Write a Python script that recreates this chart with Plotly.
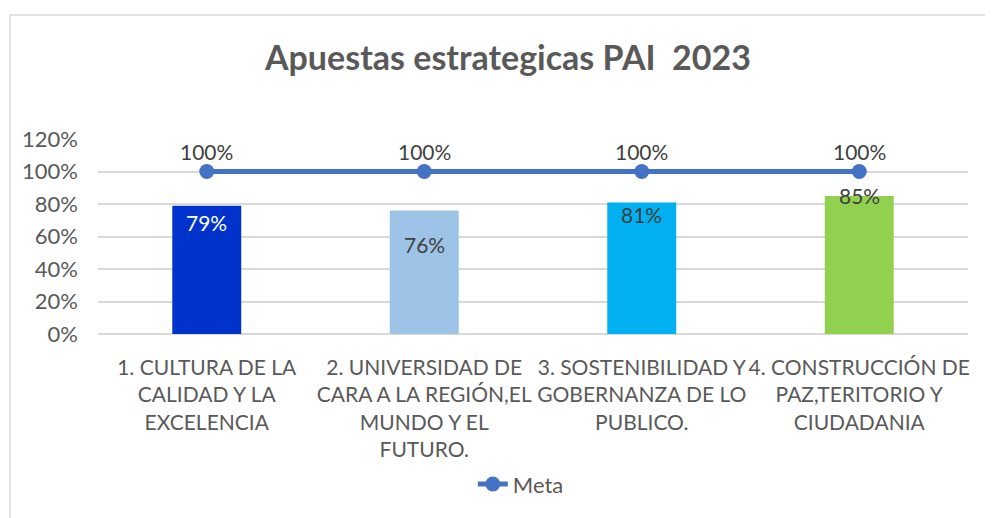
import plotly.graph_objects as go

categories = [
    "1. CULTURA DE LA<br>CALIDAD Y LA<br>EXCELENCIA",
    "2. UNIVERSIDAD DE<br>CARA A LA REGIÓN,EL<br>MUNDO Y EL<br>FUTURO.",
    "3. SOSTENIBILIDAD Y<br>GOBERNANZA DE LO<br>PUBLICO.",
    "4. CONSTRUCCIÓN DE<br>PAZ,TERITORIO Y<br>CIUDADANIA",
]
avance = [0.79, 0.76, 0.81, 0.85]
meta = [1.0, 1.0, 1.0, 1.0]
avance_labels = ["79%", "76%", "81%", "85%"]
meta_labels = ["100%", "100%", "100%", "100%"]
y_ticks = [0, 0.2, 0.4, 0.6, 0.8, 1.0, 1.2]

bar_colors = ["#0033CC", "#9DC3E6", "#00B0F0", "#92D050"]
label_colors = ["#FFFFFF", "#404040", "#404040", "#404040"]
label_shift = [-17, -34, -12, 0]

GRAY = "#595959"
FONT = "Lato"

fig = go.Figure()

fig.add_trace(go.Bar(
    x=categories, y=avance, marker=dict(color=bar_colors, line=dict(width=0)),
    width=0.317, showlegend=False, hoverinfo="skip",
))

fig.add_trace(go.Scatter(
    x=categories, y=meta, name="Meta", mode="lines+markers",
    line=dict(color="#4472C4", width=5),
    marker=dict(color="#4472C4", size=15),
))

# etiquetas de datos
for cat, v, txt, col, sh in zip(categories, avance, avance_labels, label_colors, label_shift):
    fig.add_annotation(x=cat, y=v, text=txt, showarrow=False, yshift=sh,
                       font=dict(family=FONT, size=21, color=col))
for cat, v, txt in zip(categories, meta, meta_labels):
    fig.add_annotation(x=cat, y=v, text=txt, showarrow=False, yshift=20,
                       font=dict(family=FONT, size=21, color="#404040"))

# borde del grafico
fig.add_shape(type="rect", xref="paper", yref="paper",
              x0=-0.101, x1=1.06, y0=-1.0, y1=1.636,
              line=dict(color="#D9D9D9", width=1.5), fillcolor="rgba(0,0,0,0)")

fig.update_layout(
    width=985, height=510,
    margin=dict(l=90, r=25, t=131, b=181),
    plot_bgcolor="white", paper_bgcolor="white",
    title=dict(text="<b>Apuestas estrategicas PAI  2023</b>",
               x=0.5076, xref="container", xanchor="center",
               y=0.902, yref="container", yanchor="middle",
               font=dict(family=FONT, size=34, color=GRAY)),
    legend=dict(orientation="h", x=0.486, xanchor="center", y=-0.77, yanchor="middle",
                font=dict(family=FONT, size=22, color=GRAY)),
    xaxis=dict(tickfont=dict(family=FONT, size=21, color=GRAY), tickangle=0,
               showgrid=False, ticks="", ticklabelstandoff=19, automargin=False),
    yaxis=dict(range=[0, 1.2], tickvals=y_ticks, tickformat=".0%",
               tickfont=dict(family=FONT, size=22, color=GRAY),
               gridcolor="#D9D9D9", gridwidth=1.5, zeroline=True,
               zerolinecolor="#D9D9D9", zerolinewidth=1.5,
               ticklabelstandoff=19, automargin=False),
)

fig.write_html("out.html")
